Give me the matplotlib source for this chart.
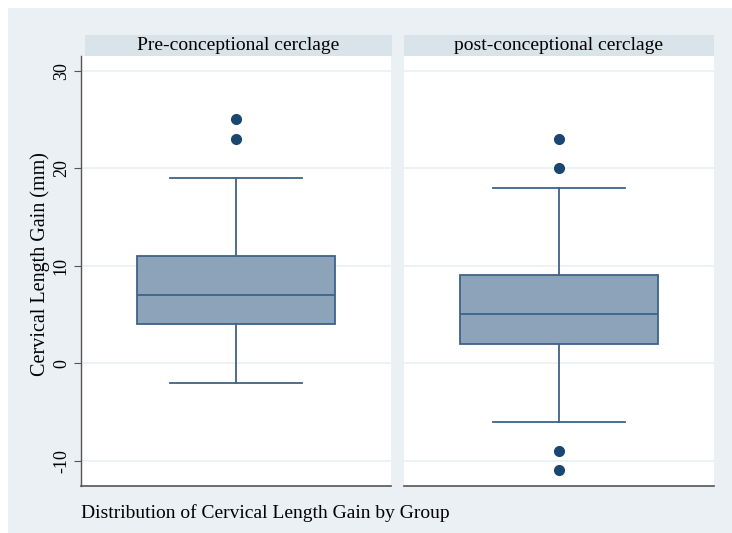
import matplotlib
matplotlib.use("Agg")
import matplotlib.pyplot as plt
from matplotlib.patches import Rectangle

plt.rcParams['font.family'] = ['Liberation Serif', 'DejaVu Serif']

groups = ["Pre-conceptional cerclage", "post-conceptional cerclage"]
q1 = [4, 2]
median = [7, 5]
q3 = [11, 9]
whisk_lo = [-2, -6]
whisk_hi = [19, 18]
outliers = [[23, 25], [20, 23, -9, -11]]
yticks = [-10, 0, 10, 20, 30]
ylabel = "Cervical Length Gain (mm)"
caption = "Distribution of Cervical Length Gain by Group"

W, H = 732, 533
fig = plt.figure(figsize=(W / 100, H / 100), dpi=100)
fig.patch.set_facecolor("white")

def fx(px):
    return px / W

def fy(py):
    return 1 - py / H

# graph region background
fig.patches.append(Rectangle((fx(8), 0), 1 - fx(8), fy(8), transform=fig.transFigure,
                             facecolor="#EAF0F3", edgecolor="none", zorder=-5))

strip_col = "#D9E3EA"
box_fill = "#8DA3B9"
line_col = "#3E6289"
dot_col = "#1A476F"

panels = [(81, 391, 85), (404, 714, 404)]
top, bottom = 56, 486
ylim = (-12.6, 31.5)

for i, (x0, x1, sx0) in enumerate(panels):
    ax = fig.add_axes([fx(x0), fy(bottom), fx(x1 - x0), (bottom - top) / H])
    ax.set_zorder(1)
    ax.set_facecolor("white")
    ax.set_ylim(*ylim)
    for y in yticks:
        ax.axhline(y, color="#EAF0F3", lw=1.2, zorder=1)
    pos = 0.5
    bw = 198 / 310
    cw = 132 / 310
    ax.bxp([{
        "med": median[i], "q1": q1[i], "q3": q3[i],
        "whislo": whisk_lo[i], "whishi": whisk_hi[i], "fliers": outliers[i],
    }], positions=[pos], widths=bw, patch_artist=True, showcaps=True,
        boxprops=dict(facecolor=box_fill, edgecolor=line_col, linewidth=1.3),
        medianprops=dict(color=line_col, linewidth=1.3),
        whiskerprops=dict(color=line_col, linewidth=1.3),
        capprops=dict(color=line_col, linewidth=1.3),
        capwidths=cw,
        flierprops=dict(marker="o", markerfacecolor=dot_col, markeredgecolor=dot_col,
                        markersize=7),
        zorder=3)
    ax.set_xlim(0, 1)
    ax.set_xticks([])
    for s in ["top", "right"]:
        ax.spines[s].set_visible(False)
    ax.spines["bottom"].set_color("#555555")
    ax.spines["bottom"].set_linewidth(1.2)
    if i == 0:
        ax.spines["left"].set_color("#555555")
        ax.spines["left"].set_linewidth(1.0)
        ax.set_yticks(yticks)
        ax.set_yticklabels([str(t) for t in yticks], rotation=90, va="center", fontsize=13)
        ax.tick_params(axis="y", length=5, color="#555555", pad=3)
        ax.set_ylabel(ylabel, fontsize=14.5)
        ax.yaxis.set_label_coords(-0.1, 0.517)
    else:
        ax.spines["left"].set_visible(False)
        ax.set_yticks([])
    # strip header
    sx1 = x1 + (1 if i == 0 else 0)
    fig.patches.append(Rectangle((fx(sx0), fy(56)), fx(sx1 - sx0), 21 / H,
                                 transform=fig.transFigure, facecolor=strip_col,
                                 edgecolor="none", zorder=1))
    fig.text(fx((sx0 + sx1) / 2), fy(45.5), groups[i], ha="center", va="center",
             fontsize=14)

fig.text(fx(81), fy(513), caption, ha="left", va="center", fontsize=14)

fig.savefig("out.png", dpi=100, facecolor="white")
